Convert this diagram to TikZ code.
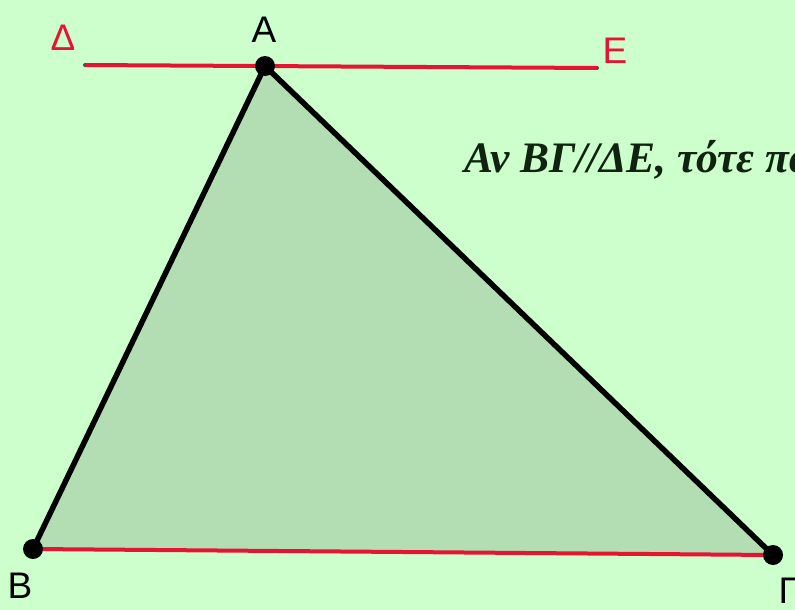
\documentclass[tikz,border=0pt]{standalone}
\usepackage{fontspec}
\setmainfont{Liberation Serif}
\newfontfamily\lblfont{Liberation Sans}
\definecolor{bg}{RGB}{204,255,204}
\definecolor{trifill}{RGB}{179,222,179}
\definecolor{redline}{RGB}{230,20,50}
\definecolor{txt}{RGB}{15,35,15}
\begin{document}
\begin{tikzpicture}[x=1pt,y=-1pt,
  side/.style={line width=5.5pt,black,line join=round},
  redside/.style={line width=4pt,redline},
  vdot/.style={circle,fill=black,inner sep=0pt,minimum size=20pt},
  edot/.style={circle,fill=black!70,inner sep=0pt,minimum size=4pt},
  vlabel/.style={font=\lblfont\fontsize{37}{37}\selectfont},
  rlabel/.style={font=\lblfont\fontsize{37}{37}\selectfont,text=redline}]
\useasboundingbox (0,0) rectangle (795,610);
\clip (0,0) rectangle (795,610);
\fill[bg] (0,0) rectangle (795,610);
\coordinate (A) at (265,66);
\coordinate (B) at (33,549);
\coordinate (G) at (773,555);
\node[edot] (D) at (85,65) {};
\node[edot] (E) at (597,68) {};
\fill[trifill] (A) -- (B) -- (G) -- cycle;
\draw[redside] (D.center) -- (E.center);
\draw[redside] (B) -- (G);
\draw[side] (B) -- (A) -- (G);
\node[vdot] (Ad) at (A) {};
\node[vdot] (Bd) at (B) {};
\node[vdot] (Gd) at (G) {};
\node[vlabel] (LA) at (264,30) {A};
\node[vlabel] (LB) at (20,586) {B};
\node[vlabel,anchor=north west] (LG) at (775,574) {Γ};
\node[rlabel] (LD) at (63,38) {Δ};
\node[rlabel] (LE) at (615,51) {E};
\node[anchor=base west,inner sep=0pt,text=txt,font=\fontsize{43.5}{43.5}\selectfont\bfseries\itshape] (T) at (464,172) {Αν ΒΓ//ΔΕ, τότε πα};
\end{tikzpicture}
\end{document}
